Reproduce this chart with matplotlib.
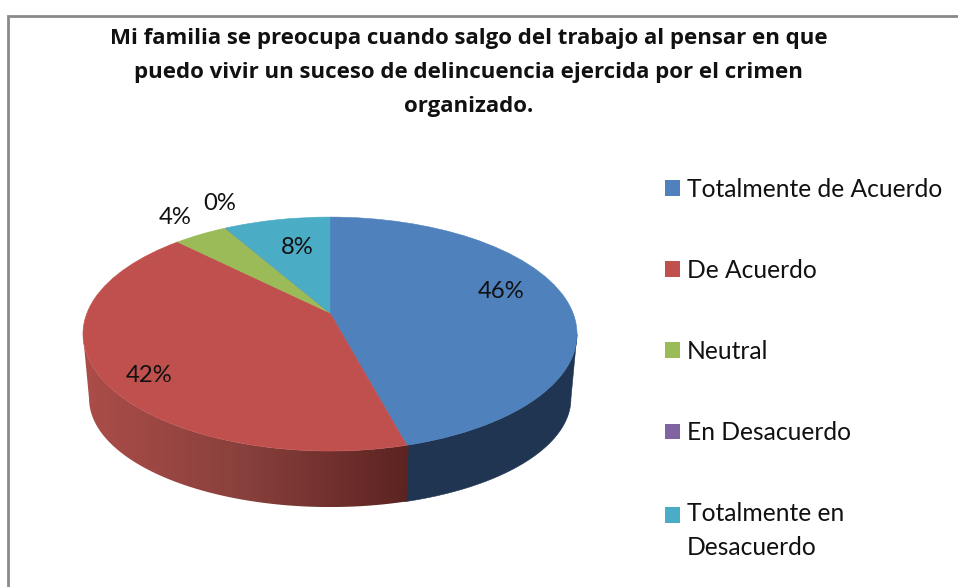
import numpy as np
import matplotlib
matplotlib.use("Agg")
import matplotlib.pyplot as plt
from matplotlib.colors import LinearSegmentedColormap
from matplotlib.lines import Line2D
from matplotlib.patches import Rectangle, Polygon
from matplotlib.path import Path
from matplotlib.transforms import Transform

title = ("Mi familia se preocupa cuando salgo del trabajo al pensar en que\n"
         "puedo vivir un suceso de delincuencia ejercida por el crimen\n"
         "organizado.")
categories = ["Totalmente de Acuerdo", "De Acuerdo", "Neutral", "En Desacuerdo",
              "Totalmente en\nDesacuerdo"]
values = [45.8, 41.7, 4.2, 0.0, 8.3]
colors = ["#4F81BD", "#C0504D", "#9BBB59", "#8064A2", "#4BACC6"]
label_pos = [(501, 292), (149, 376), (175, 217), (220, 203), (297, 248)]


class Tilt(Transform):
    """Perspective view of the unit-circle pie onto the pixel-based data axes."""
    input_dims = output_dims = 2

    def __init__(self, cx, cy, a, b, p):
        super().__init__()
        self.cx, self.cy, self.a, self.b, self.p = cx, cy, a, b, p

    def transform_non_affine(self, xy):
        xy = np.asarray(xy, float)
        w = 1 + self.p * xy[:, 1]
        return np.column_stack([self.cx + self.a * xy[:, 0] / w,
                                self.cy - self.b * xy[:, 1] / w])

    def transform_path_non_affine(self, path):
        return Path(self.transform_non_affine(path.vertices), path.codes)


fig = plt.figure(figsize=(9.58, 5.87), dpi=100, facecolor="white")
ax = fig.add_axes([0, 0, 1, 1])

top = Tilt(330, 313, 243, 113.2, 0.18)
base = Tilt(330, 379, 237, 105, 0.18)

wedges, _ = ax.pie(values, colors=colors, startangle=90, counterclock=False,
                   wedgeprops=dict(linewidth=0))
for w in wedges:
    w.set_transform(top + ax.transData)
    w.set_zorder(3)
    w.set_edgecolor(w.get_facecolor())
    w.set_linewidth(0.4)

# side wall: one outline per slice, the red one filled with a horizontal gradient
cum = np.cumsum([0] + values) / sum(values)
edges = 90 - 360 * cum
wall_cmap = LinearSegmentedColormap.from_list("wall", ["#AC4D49", "#88403C", "#5C2321"])
for i in (0, 1):
    hi, lo = edges[i], edges[i + 1]
    a = np.arange(lo, hi + 0.5, 0.5)
    a = a[np.sin(np.radians(a)) < -0.18]
    th = np.radians(a)
    uv = np.column_stack([np.cos(th), np.sin(th)])
    outline = np.vstack([top.transform_non_affine(uv), base.transform_non_affine(uv)[::-1]])
    if i == 0:
        ax.add_patch(Polygon(outline, closed=True, facecolor="#1F3552",
                             edgecolor="#1F3552", lw=0.4, zorder=2))
    else:
        patch = Polygon(outline, closed=True, facecolor="none", edgecolor="none")
        ax.add_patch(patch)
        x0, x1 = outline[:, 0].min(), outline[:, 0].max()
        y0, y1 = outline[:, 1].min(), outline[:, 1].max()
        im = ax.imshow(np.linspace(0, 1, 256)[None, :], cmap=wall_cmap, aspect="auto",
                       extent=(x0, x1, y1, y0), zorder=2)
        im.set_clip_path(patch)

ax.set_aspect("auto")
ax.set_xlim(0, 958)
ax.set_ylim(587, 0)
ax.set_axis_off()

for v, (x, y) in zip(values, label_pos):
    ax.text(x, y, f"{v:.0f}%", ha="center", va="center", fontsize=17.2,
            family="Lato", color="#111111", zorder=5)

ax.text(468.5, 72.5, title, ha="center", va="center", fontsize=16, family="Open Sans",
        fontweight="bold", color="#111111", linespacing=1.82)

# frame: only the top and left borders are in the picture
ax.add_line(Line2D([8.5, 8.5, 958], [587, 16, 16], color="#8A8A8A", lw=2, zorder=1,
                   solid_joinstyle="miter"))

handles = [Rectangle((0, 0), 1, 1, facecolor=c, edgecolor="none") for c in colors]
leg = ax.legend(handles, categories, loc="upper left",
                bbox_to_anchor=(665 / 958, 1 - 178 / 587), bbox_transform=fig.transFigure,
                frameon=False, handlelength=0.61, handleheight=0.61, handletextpad=0.29,
                labelspacing=2.36, borderpad=0, borderaxespad=0,
                prop=dict(family="Lato", size=17.7))
for t in leg.get_texts():
    t.set_color("#111111")
leg.get_texts()[4].set_linespacing(1.55)
leg.legend_handles[4].set_y(leg.legend_handles[4].get_y() + 11.5)
leg.set_zorder(6)

fig.savefig("out.png", dpi=100)
